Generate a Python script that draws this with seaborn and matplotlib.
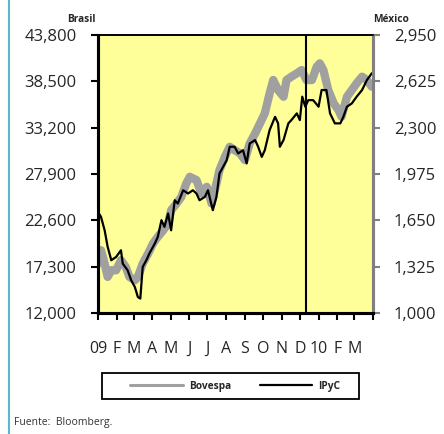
import numpy as np
import pandas as pd
import seaborn as sns
import matplotlib.pyplot as plt
from matplotlib.lines import Line2D
from matplotlib.patches import Rectangle

# Bovespa (USD, left axis)
bov_dates = ["2009-01-01", "2009-01-06", "2009-01-12", "2009-01-17", "2009-01-23", "2009-01-31",
             "2009-02-08", "2009-02-16", "2009-02-22", "2009-03-03", "2009-03-08", "2009-03-16",
             "2009-03-25", "2009-04-02", "2009-04-10", "2009-04-19", "2009-04-27", "2009-05-02",
             "2009-05-11", "2009-05-19", "2009-05-27", "2009-06-02", "2009-06-13", "2009-06-21",
             "2009-06-30", "2009-07-08", "2009-07-16", "2009-07-21", "2009-07-30", "2009-08-07",
             "2009-08-15", "2009-08-24", "2009-09-01", "2009-09-09", "2009-09-18", "2009-09-26",
             "2009-10-04", "2009-10-12", "2009-10-18", "2009-10-26", "2009-11-04", "2009-11-09",
             "2009-11-17", "2009-11-26", "2009-12-04", "2009-12-12", "2009-12-21", "2009-12-29",
             "2010-01-03", "2010-01-09", "2010-01-17", "2010-01-26", "2010-02-03", "2010-02-08",
             "2010-02-17", "2010-02-25", "2010-03-05", "2010-03-14", "2010-03-22", "2010-03-30"]
bovespa = [17650, 19180, 17650, 16130, 16890, 16890,
           18035, 17270, 16130, 15745, 16130, 17650,
           18800, 19940, 20710, 21470, 22230, 23760,
           24520, 25290, 26810, 27580, 27200, 25670,
           26430, 24520, 26810, 28340, 29870, 31010,
           30630, 30250, 29490, 31390, 32540, 33680,
           34830, 37120, 38650, 37500, 36740, 38650,
           39030, 39410, 39790, 38650, 38650, 40170,
           40560, 39790, 37500, 35980, 35210, 34450,
           36740, 37500, 38270, 39030, 38650, 37880]

# IPyC (USD, right axis)
ipc_dates = ["2009-01-01", "2009-01-06", "2009-01-12", "2009-01-17", "2009-01-23", "2009-01-31",
             "2009-02-08", "2009-02-11", "2009-02-19", "2009-02-25", "2009-03-03", "2009-03-08",
             "2009-03-12", "2009-03-16", "2009-03-22", "2009-03-27", "2009-04-05", "2009-04-10",
             "2009-04-16", "2009-04-21", "2009-04-27", "2009-05-02", "2009-05-08", "2009-05-13",
             "2009-05-22", "2009-05-30", "2009-06-07", "2009-06-13", "2009-06-18", "2009-06-27",
             "2009-07-02", "2009-07-10", "2009-07-16", "2009-07-21", "2009-07-27", "2009-08-02",
             "2009-08-07", "2009-08-15", "2009-08-21", "2009-08-29", "2009-09-04", "2009-09-09",
             "2009-09-18", "2009-09-23", "2009-09-29", "2009-10-04", "2009-10-12", "2009-10-21",
             "2009-10-26", "2009-10-29", "2009-11-04", "2009-11-12", "2009-11-17", "2009-11-26",
             "2009-12-01", "2009-12-05", "2009-12-10", "2009-12-15", "2009-12-23", "2010-01-01",
             "2010-01-06", "2010-01-14", "2010-01-20", "2010-01-28", "2010-02-06", "2010-02-11",
             "2010-02-17", "2010-02-25", "2010-03-05", "2010-03-14", "2010-03-22", "2010-03-30"]
ipyc = [1709, 1674, 1580, 1464, 1370, 1393,
        1440, 1346, 1300, 1229, 1182, 1112,
        1101, 1323, 1370, 1417, 1487, 1534,
        1651, 1604, 1698, 1580, 1791, 1768,
        1861, 1838, 1861, 1838, 1791, 1815,
        1861, 1721, 1815, 1978, 2025, 2072,
        2166, 2166, 2119, 2142, 2049, 2189,
        2213, 2166, 2095, 2142, 2283, 2376,
        2330, 2166, 2213, 2330, 2353, 2400,
        2353, 2517, 2447, 2493, 2493, 2447,
        2564, 2564, 2400, 2330, 2330, 2376,
        2447, 2470, 2517, 2564, 2634, 2681]

gap_date = "2009-12-12"

left_ticks = [12000, 17300, 22600, 27900, 33200, 38500, 43800]
right_ticks = [1000, 1325, 1650, 1975, 2300, 2625, 2950]
month_labels = ["09", "F", "M", "A", "M", "J", "J", "A", "S", "O", "N", "D", "10", "F", "M", ""]

bov_df = pd.DataFrame({"date": pd.to_datetime(bov_dates), "Bovespa": bovespa})
ipc_df = pd.DataFrame({"date": pd.to_datetime(ipc_dates), "IPyC": ipyc})

sns.set_style("white")
plt.rcParams["font.family"] = ["Open Sans", "DejaVu Sans"]

fig = plt.figure(figsize=(4.44, 4.34), dpi=100)
ax = fig.add_axes([0.2207, 0.2788, 0.6193, 0.6406])
ax.set_facecolor("#FFFF99")

gray = "#A0A0A0"
sns.lineplot(data=bov_df, x="date", y="Bovespa", ax=ax, color=gray, lw=6,
             solid_capstyle="round", solid_joinstyle="round", legend=False)
ax2 = ax.twinx()
sns.lineplot(data=ipc_df, x="date", y="IPyC", ax=ax2, color="black", lw=1.6, legend=False)
ax2.axvline(pd.Timestamp(gap_date), color="black", lw=1.5)

ax.set_ylim(12000, 43800)
ax2.set_ylim(1000, 2950)
ax.set_xlim(pd.Timestamp("2009-01-01"), pd.Timestamp("2010-04-01"))

ax.set_yticks(left_ticks)
ax.set_yticklabels([f"{v:,}" for v in left_ticks], fontsize=12)
ax2.set_yticks(right_ticks)
ax2.set_yticklabels([f"{v:,}" for v in right_ticks], fontsize=12)

month_ticks = pd.date_range("2009-01-01", "2010-04-01", freq="MS")
ax.set_xticks(month_ticks)
ax.set_xticklabels(month_labels, fontsize=11.5)
ax.set_xlabel("")
ax.set_ylabel("")
ax2.set_ylabel("")

ax.tick_params(axis="y", direction="out", length=5, width=1.5, color="black", pad=10.5, left=True)
ax.tick_params(axis="x", direction="out", length=5, width=1.5, color="black", pad=15, bottom=True)
ax2.tick_params(axis="y", direction="out", length=5, width=1.5, color="#808080", pad=10, right=True)

for a in (ax, ax2):
    a.spines["left"].set_linewidth(2.2)
    a.spines["left"].set_color("black")
    a.spines["bottom"].set_linewidth(2.2)
    a.spines["bottom"].set_color("black")
    a.spines["top"].set_linewidth(1.2)
    a.spines["top"].set_color("black")
    a.spines["right"].set_linewidth(2.2)
    a.spines["right"].set_color("#808080")

fig.text(81.5 / 444, 1 - 19.5 / 434, "Brasil", fontsize=7.3, fontweight="bold",
         ha="center", va="center")
fig.text(391.5 / 444, 1 - 19.5 / 434, "México", fontsize=7.3, fontweight="bold",
         ha="center", va="center")

# legend box
fig.add_artist(Rectangle((102 / 444, 1 - 399 / 434), 257 / 444, 26 / 434,
                         transform=fig.transFigure, fill=False, edgecolor="black", lw=1.3))
handles = [Line2D([], [], color=gray, lw=2.2), Line2D([], [], color="black", lw=1.6)]
fig.legend(handles, ["Bovespa", "IPyC"], loc="center", ncol=2,
           bbox_to_anchor=(235.5 / 444, 1 - 386 / 434), frameon=False,
           handlelength=5.2, columnspacing=2.8, handletextpad=0.6,
           prop={"size": 7.3, "weight": "bold"})

fig.text(14 / 444, 1 - 422 / 434, "Fuente:  Bloomberg.", fontsize=7.5, ha="left", va="center",
         color="#333333")
fig.add_artist(Line2D([8.5 / 444, 8.5 / 444], [0, 1], transform=fig.transFigure,
                      color="#5BB8C8", lw=1.5))

fig.savefig("out.png", dpi=100, facecolor="white")
